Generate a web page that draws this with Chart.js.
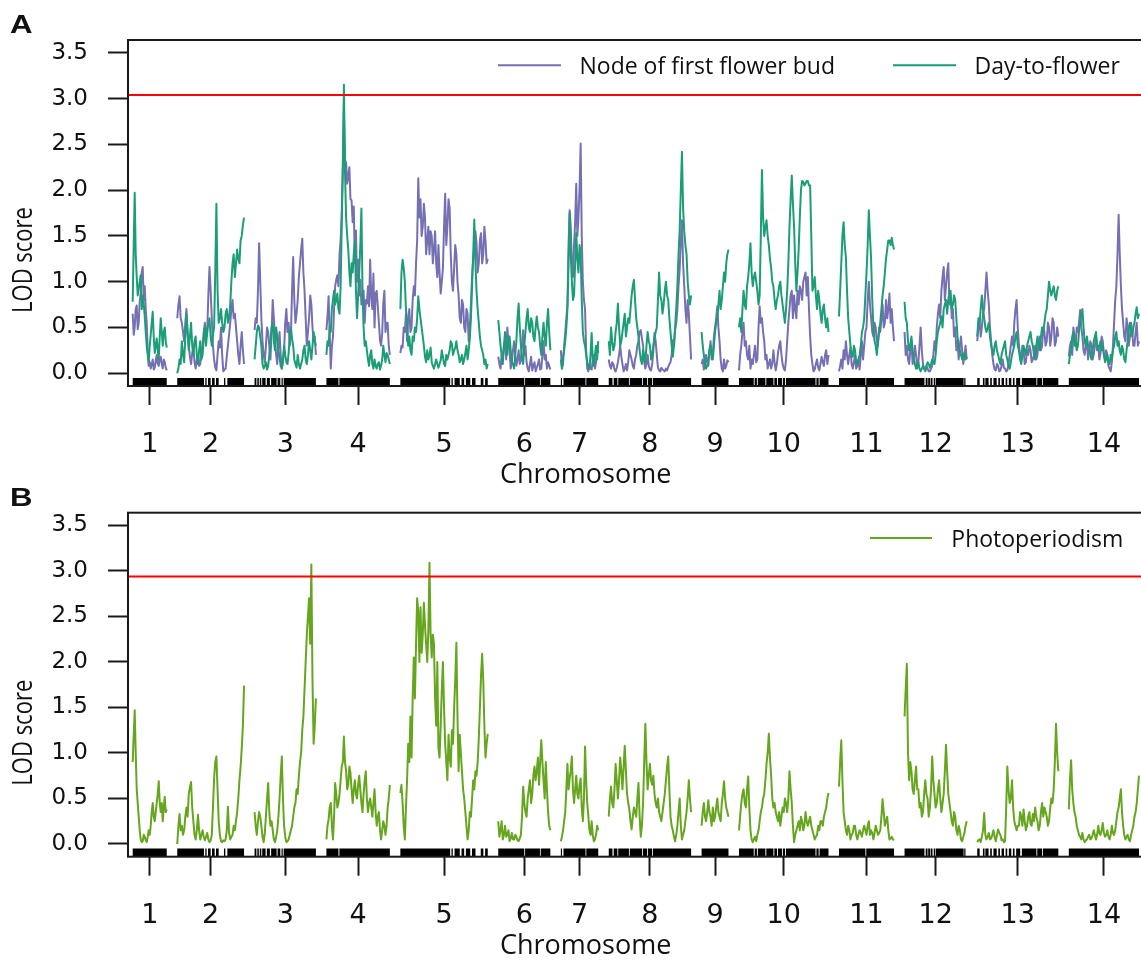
<!DOCTYPE html>
<html>
<head>
<meta charset="utf-8">
<title>LOD scans</title>
<script src="https://cdn.jsdelivr.net/npm/chart.js@4.4.1/dist/chart.umd.min.js"></script>
<style>
  html, body { margin: 0; padding: 0; background: #fff; overflow: hidden; }
  #wrap { position: relative; width: 1141px; height: 970px; overflow: hidden; background: #fff; }
  canvas { position: absolute; left: 0; }
  #panelA { top: 0; }
  #panelB { top: 470px; }
</style>
</head>
<body>
<div id="wrap">
  <canvas id="panelA" width="1150" height="490"></canvas>
  <canvas id="panelB" width="1150" height="500"></canvas>
</div>
<script>
// ---- genome layout ----
const chromNames = ['1','2','3','4','5','6','7','8','9','10','11','12','13','14'];
const chromLengths = [81, 159, 146, 151, 208, 124, 89, 196, 64, 213, 131, 148, 193, 167]; // cM
const chromGap = 25; // cM between chromosomes
const yTicks = [0, 0.5, 1, 1.5, 2, 2.5, 3, 3.5];

// genome-wide significance thresholds
const thresholdA = 3.04;
const thresholdB = 2.94;

// ---- LOD profiles, one list per chromosome (evenly spaced positions along each) ----
const nodeLod = [
  [0.65,0.42,0.5,0.7,0.74,0.48,0.55,0.78,0.88,1.1,1.16,0.8,0.95,0.7,0.55,0.25,0.08,0.12,0.05,0.1,0.15,0.04,0.06,0.14,0.2,0.1,0.08,0.16,0.18,0.1,0.05,0.15,0.12,0.06,0.03],
  [0.6,0.75,0.84,0.6,0.55,0.45,0.35,0.55,0.7,0.42,0.3,0.18,0.1,0.22,0.28,0.12,0.05,0.15,0.2,0.08,0.1,0.25,0.3,0.45,0.55,0.38,0.45,0.85,1.16,0.9,0.6,0.3,0.15,0.06,0.03,0.2,0.35,0.28,0.5,0.2,0.02,0.04,0.05,0.18,0.3,0.42,0.55,0.7,0.8,0.6,0.65,0.5,0.35,0.2,0.1,0.3,0.45,0.25,0.1],
  [0.47,0.6,0.55,0.9,1.42,1.0,0.6,0.35,0.2,0.12,0.3,0.5,0.45,0.3,0.15,0.45,0.8,0.6,0.4,0.2,0.1,0.3,0.45,0.2,0.05,0.12,0.25,0.55,0.7,0.45,0.55,0.3,0.4,0.9,1.27,0.8,0.55,0.65,0.8,1.05,1.2,1.35,1.47,1.1,0.9,0.6,0.3,0.45,0.6,0.85,0.75,0.5,0.35,0.4,0.2],
  [0.47,0.62,0.84,0.44,0.05,0.29,0.4,0.7,0.95,1.02,1.07,0.95,1.3,1.45,1.75,2.2,2.87,2.33,2.3,2.07,2.15,2.25,1.9,1.89,1.65,1.82,1.2,1.56,1.0,1.24,0.85,1.02,0.75,0.84,0.9,0.55,0.8,0.76,0.95,0.73,1.24,0.84,0.7,1.09,0.5,0.87,0.9,0.73,0.55,0.36,0.3,0.44,0.76,0.9,0.45,0.55,0.55,0.3,0.2],
  [0.22,0.3,0.28,0.5,0.45,0.65,0.35,0.6,0.7,0.45,0.5,0.8,0.95,0.85,1.2,1.45,2.13,1.7,1.9,1.5,1.6,1.85,1.7,1.3,1.45,1.6,1.3,1.55,1.5,1.2,1.35,1.55,1.2,1.05,1.4,1.1,0.87,1.0,1.15,1.6,1.96,1.4,1.6,1.9,1.8,1.3,1.0,0.9,1.15,1.4,1.3,1.0,0.85,0.6,0.55,0.8,0.75,0.5,0.45,0.7,0.65,0.35,0.5,0.75,1.05,1.25,1.35,1.55,1.42,1.1,1.2,1.45,1.53,1.2,1.3,1.6,1.45,1.2,1.25],
  [0.18,0.1,0.05,0.2,0.15,0.3,0.35,0.15,0.5,0.35,0.25,0.05,0.12,0.25,0.35,0.2,0.08,0.15,0.25,0.1,0.15,0.3,0.47,0.2,0.3,0.12,0.05,0.02,0.1,0.18,0.03,0.08,0.12,0.02,0.06,0.1,0.15,0.04,0.05,0.2,0.35,0.15,0.2,0.05,0.12,0.08,0.04],
  [0.25,0.05,0.1,0.3,0.45,0.6,0.75,1.4,1.78,1.6,1.2,1.05,1.4,1.65,2.07,1.5,1.7,2.0,2.51,1.5,1.0,0.8,0.7,0.25,0.05,0.02,0.1,0.05,0.04,0.15,0.2,0.05,0.12,0.3,0.22],
  [0.15,0.08,0.05,0.12,0.1,0.04,0.02,0.06,0.12,0.2,0.3,0.18,0.1,0.02,0.05,0.1,0.03,0.12,0.25,0.2,0.15,0.08,0.05,0.15,0.2,0.3,0.35,0.45,0.47,0.38,0.3,0.12,0.05,0.1,0.2,0.08,0.04,0.03,0.1,0.25,0.44,0.35,0.2,0.06,0.03,0.02,0.06,0.04,0.03,0.02,0.05,0.03,0.07,0.1,0.12,0.2,0.36,0.3,0.47,0.55,0.7,0.95,1.13,1.45,1.67,1.2,0.95,0.7,0.55,0.8,0.65,0.4,0.15],
  [0.1,0.15,0.04,0.1,0.2,0.12,0.08,0.25,0.35,0.15,0.2,0.4,0.5,0.6,0.73,0.5,0.35,0.15,0.05,0.02,0.15,0.05,0.08,0.14,0.12],
  [0.03,0.2,0.3,0.45,0.55,0.3,0.35,0.2,0.15,0.3,0.05,0.15,0.1,0.2,0.3,0.12,0.15,0.5,0.73,0.55,0.6,0.45,0.35,0.15,0.2,0.05,0.1,0.15,0.05,0.1,0.25,0.12,0.03,0.1,0.22,0.3,0.35,0.2,0.1,0.05,0.03,0.15,0.35,0.55,0.7,0.85,0.9,0.6,0.85,0.7,0.6,0.9,0.75,0.95,0.9,0.8,1.0,1.05,1.1,0.85,1.05,0.7,0.4,0.2,0.1,0.02,0.04,0.1,0.15,0.06,0.03,0.1,0.18,0.12,0.08,0.2,0.25,0.1,0.2],
  [0.02,0.08,0.15,0.05,0.25,0.15,0.35,0.2,0.1,0.2,0.28,0.1,0.05,0.12,0.2,0.05,0.08,0.15,0.04,0.2,0.35,0.15,0.3,0.45,0.5,0.8,1.0,0.75,0.6,0.45,0.4,0.55,0.5,0.35,0.3,0.5,0.45,0.6,0.75,0.5,0.55,0.8,0.6,0.7,0.87,0.55,0.7,0.5,0.35],
  [0.45,0.2,0.3,0.15,0.1,0.25,0.35,0.1,0.15,0.3,0.2,0.05,0.12,0.3,0.5,0.25,0.1,0.05,0.02,0.08,0.05,0.02,0.02,0.05,0.08,0.2,0.35,0.25,0.5,0.65,0.75,0.6,0.9,1.05,1.16,0.8,0.95,1.1,1.2,0.75,0.9,0.6,0.7,0.4,0.5,0.25,0.35,0.15,0.3,0.4,0.25,0.1,0.2,0.3,0.15],
  [0.35,0.5,0.6,0.4,0.5,0.65,0.7,0.9,1.1,0.9,0.75,0.5,0.35,0.2,0.1,0.04,0.03,0.1,0.08,0.02,0.03,0.08,0.15,0.06,0.05,0.02,0.03,0.1,0.2,0.3,0.4,0.3,0.55,0.7,0.8,0.5,0.3,0.2,0.15,0.3,0.25,0.1,0.12,0.25,0.2,0.3,0.25,0.12,0.15,0.2,0.3,0.15,0.2,0.35,0.4,0.25,0.3,0.5,0.45,0.3,0.35,0.55,0.5,0.3,0.4,0.6,0.55,0.3,0.35,0.5,0.4],
  [0.18,0.3,0.35,0.2,0.5,0.4,0.3,0.5,0.45,0.55,0.69,0.5,0.4,0.25,0.2,0.3,0.35,0.15,0.25,0.35,0.3,0.15,0.2,0.3,0.4,0.25,0.3,0.15,0.22,0.4,0.35,0.2,0.15,0.25,0.2,0.08,0.05,0.02,0.12,0.3,0.55,0.8,0.95,1.3,1.73,1.3,0.95,0.7,0.55,0.4,0.35,0.6,0.5,0.3,0.4,0.55,0.45,0.3,0.3,0.45,0.55,0.3,0.35]
];

const dayLod = [
  [0.78,1.4,1.97,1.3,1.05,0.85,0.92,1.0,1.07,0.7,0.85,0.75,0.62,0.45,0.3,0.2,0.12,0.3,0.42,0.55,0.67,0.4,0.22,0.3,0.38,0.25,0.15,0.4,0.6,0.45,0.3,0.45,0.5,0.35,0.28],
  [0.0,0.05,0.15,0.1,0.35,0.2,0.12,0.4,0.65,0.45,0.25,0.4,0.55,0.3,0.2,0.35,0.4,0.2,0.1,0.25,0.35,0.15,0.2,0.38,0.5,0.3,0.45,0.55,0.6,0.4,0.3,0.42,0.5,1.1,1.85,0.9,0.55,0.6,0.7,0.55,0.45,0.5,0.65,0.7,0.55,0.6,0.75,1.0,1.2,1.3,1.05,1.2,1.35,1.25,1.2,1.45,1.5,1.62,1.7],
  [0.15,0.3,0.45,0.52,0.5,0.4,0.3,0.1,0.05,0.08,0.12,0.04,0.08,0.2,0.35,0.5,0.55,0.35,0.25,0.5,0.4,0.25,0.18,0.08,0.05,0.15,0.3,0.2,0.12,0.1,0.22,0.4,0.5,0.38,0.3,0.15,0.1,0.06,0.2,0.1,0.05,0.1,0.15,0.25,0.3,0.15,0.1,0.2,0.35,0.25,0.15,0.3,0.45,0.35,0.3],
  [0.2,0.35,0.3,0.5,0.45,0.7,0.8,0.9,0.75,0.8,0.87,0.7,0.65,0.95,1.6,2.3,3.15,2.2,1.7,1.5,1.35,1.1,0.95,1.2,1.1,1.3,1.45,0.9,0.6,0.85,1.1,1.4,1.8,0.9,0.5,0.3,0.35,0.25,0.15,0.08,0.2,0.25,0.1,0.05,0.15,0.08,0.05,0.1,0.12,0.04,0.08,0.15,0.3,0.2,0.12,0.22,0.2,0.15,0.1],
  [0.7,1.1,1.24,1.15,1.0,0.7,0.55,0.3,0.4,0.25,0.2,0.4,0.35,0.5,0.45,0.6,0.84,0.7,0.6,0.5,0.4,0.3,0.18,0.12,0.25,0.15,0.2,0.28,0.12,0.08,0.05,0.1,0.15,0.1,0.06,0.1,0.14,0.25,0.18,0.1,0.08,0.2,0.15,0.2,0.25,0.35,0.32,0.2,0.25,0.28,0.35,0.25,0.2,0.12,0.15,0.2,0.1,0.15,0.22,0.3,0.15,0.25,0.38,0.6,0.95,1.3,1.68,1.2,0.9,0.7,0.55,0.4,0.3,0.25,0.2,0.1,0.15,0.05,0.1],
  [0.58,0.45,0.3,0.2,0.1,0.3,0.45,0.3,0.2,0.35,0.4,0.25,0.12,0.1,0.05,0.2,0.35,0.6,0.76,0.5,0.3,0.15,0.1,0.3,0.45,0.6,0.7,0.5,0.45,0.6,0.55,0.4,0.35,0.5,0.62,0.5,0.45,0.3,0.2,0.4,0.55,0.4,0.3,0.55,0.7,0.45,0.25],
  [0.15,0.05,0.18,0.25,0.35,0.5,0.7,1.2,1.75,1.3,1.0,0.8,0.85,1.2,1.53,1.25,1.1,1.4,1.3,0.8,0.45,0.35,0.3,0.2,0.12,0.08,0.05,0.2,0.44,0.15,0.08,0.2,0.3,0.15,0.35],
  [0.35,0.2,0.5,0.35,0.25,0.3,0.45,0.55,0.76,0.5,0.3,0.35,0.45,0.55,0.65,0.4,0.5,0.6,0.55,0.7,0.85,0.95,1.02,0.8,0.6,0.5,0.4,0.25,0.15,0.1,0.25,0.18,0.12,0.3,0.45,0.35,0.3,0.15,0.2,0.3,0.38,0.45,0.5,0.8,1.1,0.85,0.8,0.65,0.75,0.9,1.0,0.85,0.8,0.6,0.45,0.3,0.18,0.3,0.5,0.7,0.95,1.3,1.56,2.0,2.42,1.8,1.55,1.4,1.3,1.0,0.85,0.75,0.85],
  [0.45,0.3,0.2,0.1,0.05,0.08,0.15,0.25,0.3,0.2,0.15,0.3,0.45,0.55,0.6,0.75,0.9,0.7,0.8,0.95,1.1,1.0,1.2,1.3,1.35],
  [0.5,0.6,0.45,0.7,0.9,0.75,0.7,0.95,1.05,1.2,1.42,1.1,0.95,1.05,1.1,1.0,0.9,0.75,0.85,1.5,2.22,1.7,1.5,1.6,1.67,1.5,1.4,1.25,1.15,1.0,0.95,0.8,0.7,0.8,0.85,0.95,1.0,0.85,0.75,0.65,0.55,0.7,0.9,1.2,1.6,1.9,2.16,1.85,1.6,1.2,0.9,1.1,1.35,1.7,2.0,2.1,2.09,2.05,2.07,2.1,2.1,2.05,2.05,1.5,0.9,0.95,1.05,0.85,0.7,0.9,0.8,0.65,0.55,0.7,0.75,0.6,0.5,0.6,0.45],
  [0.62,0.9,1.2,1.5,1.65,1.4,1.27,0.9,0.6,0.45,0.3,0.2,0.18,0.3,0.25,0.12,0.1,0.15,0.2,0.3,0.45,0.5,0.6,0.85,1.1,1.4,1.78,1.5,1.25,0.8,0.5,0.35,0.3,0.2,0.35,0.45,0.55,0.7,0.85,0.95,1.1,1.25,1.35,1.45,1.45,1.4,1.48,1.4,1.35],
  [0.78,0.6,0.55,0.35,0.25,0.3,0.4,0.25,0.15,0.1,0.05,0.08,0.12,0.05,0.02,0.05,0.08,0.05,0.03,0.08,0.12,0.1,0.06,0.1,0.15,0.12,0.1,0.2,0.35,0.45,0.5,0.55,0.62,0.5,0.7,0.75,0.8,0.65,0.8,0.9,0.85,0.7,0.75,0.85,0.8,0.6,0.4,0.3,0.25,0.2,0.15,0.2,0.22,0.15,0.18],
  [0.4,0.6,0.55,0.7,0.85,0.7,0.6,0.5,0.45,0.5,0.55,0.4,0.3,0.25,0.2,0.3,0.35,0.25,0.2,0.15,0.1,0.2,0.25,0.3,0.35,0.2,0.15,0.08,0.05,0.12,0.2,0.25,0.3,0.4,0.45,0.3,0.25,0.15,0.1,0.2,0.3,0.25,0.2,0.3,0.35,0.4,0.45,0.35,0.3,0.2,0.15,0.3,0.4,0.3,0.25,0.4,0.5,0.45,0.55,0.65,0.7,0.85,1.0,0.9,0.85,0.9,0.95,0.85,0.8,0.9,0.95],
  [0.1,0.2,0.25,0.4,0.45,0.3,0.35,0.25,0.3,0.45,0.55,0.65,0.7,0.5,0.35,0.3,0.4,0.3,0.3,0.2,0.15,0.25,0.35,0.4,0.45,0.3,0.25,0.3,0.35,0.25,0.3,0.2,0.12,0.15,0.2,0.12,0.1,0.2,0.15,0.25,0.3,0.4,0.45,0.3,0.35,0.25,0.2,0.3,0.25,0.15,0.12,0.25,0.35,0.5,0.55,0.45,0.4,0.5,0.55,0.65,0.72,0.6,0.65]
];

const photoLod = [
  [0.9,1.2,1.47,1.0,0.6,0.45,0.3,0.15,0.05,0.02,0.03,0.1,0.08,0.04,0.02,0.08,0.15,0.1,0.2,0.35,0.45,0.3,0.25,0.35,0.45,0.55,0.69,0.45,0.35,0.45,0.25,0.4,0.52,0.35,0.38],
  [0.0,0.2,0.33,0.15,0.2,0.1,0.15,0.3,0.4,0.3,0.55,0.62,0.68,0.4,0.25,0.1,0.05,0.15,0.32,0.15,0.05,0.1,0.15,0.08,0.04,0.08,0.12,0.05,0.02,0.04,0.1,0.4,0.72,0.9,0.96,0.6,0.25,0.1,0.03,0.02,0.04,0.03,0.05,0.15,0.41,0.12,0.05,0.08,0.1,0.2,0.15,0.25,0.35,0.5,0.7,0.85,1.05,1.3,1.74],
  [0.35,0.2,0.1,0.25,0.35,0.3,0.2,0.08,0.02,0.12,0.3,0.5,0.67,0.35,0.2,0.25,0.15,0.05,0.02,0.08,0.15,0.3,0.5,0.75,0.96,0.5,0.2,0.08,0.02,0.03,0.05,0.1,0.15,0.2,0.3,0.4,0.45,0.6,0.55,0.75,0.9,1.0,1.25,1.4,1.7,2.0,2.3,2.5,2.7,2.2,3.07,1.8,1.1,1.3,1.6],
  [0.05,0.2,0.27,0.4,0.45,0.2,0.05,0.3,0.67,0.55,0.4,0.45,0.55,0.7,0.85,0.9,1.18,0.9,0.8,0.6,0.65,0.85,0.78,0.6,0.45,0.6,0.7,0.55,0.5,0.65,0.75,0.6,0.45,0.35,0.55,0.7,0.8,0.5,0.35,0.45,0.5,0.4,0.3,0.45,0.6,0.35,0.2,0.3,0.35,0.15,0.05,0.15,0.25,0.2,0.1,0.2,0.4,0.5,0.65],
  [0.56,0.65,0.45,0.2,0.05,0.4,0.7,1.1,0.9,1.4,0.95,1.6,2.05,1.6,2.2,2.7,2.55,2.0,2.6,2.1,2.3,2.65,2.4,2.2,2.0,2.35,3.09,2.3,2.05,2.3,2.2,1.6,1.3,2.0,1.05,0.95,1.3,1.7,2.0,1.5,1.1,0.9,0.7,1.2,0.95,0.85,1.25,1.1,1.5,1.8,2.21,1.4,0.8,1.2,1.0,0.8,0.6,0.5,0.35,0.2,0.05,0.15,0.35,0.3,0.5,0.7,0.6,0.8,0.75,0.9,1.15,1.5,1.85,2.09,1.8,1.3,0.95,1.1,1.21],
  [0.25,0.08,0.15,0.25,0.05,0.1,0.2,0.08,0.1,0.15,0.03,0.06,0.12,0.05,0.05,0.1,0.08,0.04,0.03,0.06,0.1,0.3,0.63,0.45,0.35,0.3,0.5,0.6,0.7,0.45,0.55,0.75,0.85,0.7,0.8,0.95,0.65,0.9,1.14,0.9,0.7,0.5,0.9,0.6,0.35,0.2,0.15],
  [0.03,0.08,0.15,0.25,0.35,0.6,0.88,0.6,0.72,0.8,0.96,0.6,0.45,0.6,0.75,0.55,0.5,0.65,0.72,0.4,0.25,0.5,1.07,0.7,0.45,0.3,0.15,0.1,0.25,0.1,0.03,0.05,0.1,0.2,0.15],
  [0.3,0.5,0.63,0.45,0.4,0.6,0.88,0.7,0.5,0.7,0.95,0.8,0.6,0.85,1.08,0.8,0.55,0.45,0.38,0.25,0.16,0.3,0.4,0.35,0.3,0.5,0.67,0.3,0.08,0.2,0.45,0.9,1.32,0.9,0.6,0.75,0.88,0.7,0.65,0.75,0.55,0.45,0.4,0.5,0.35,0.3,0.25,0.35,0.45,0.55,0.7,0.85,0.96,0.6,0.3,0.2,0.15,0.08,0.03,0.1,0.2,0.35,0.5,0.2,0.05,0.1,0.15,0.25,0.35,0.5,0.7,0.5,0.35],
  [0.2,0.35,0.45,0.3,0.25,0.35,0.48,0.35,0.3,0.2,0.4,0.25,0.3,0.4,0.5,0.35,0.3,0.25,0.45,0.55,0.69,0.5,0.4,0.35,0.3],
  [0.15,0.3,0.45,0.55,0.6,0.45,0.4,0.6,0.74,0.4,0.15,0.05,0.02,0.05,0.08,0.03,0.1,0.15,0.25,0.35,0.4,0.5,0.55,0.7,0.88,1.0,1.21,0.95,0.75,0.5,0.4,0.45,0.35,0.3,0.25,0.35,0.2,0.3,0.4,0.35,0.5,0.45,0.35,0.5,0.8,0.6,0.45,0.2,0.02,0.1,0.15,0.2,0.25,0.15,0.3,0.25,0.15,0.2,0.35,0.25,0.2,0.25,0.3,0.2,0.15,0.1,0.05,0.08,0.1,0.2,0.15,0.25,0.25,0.2,0.3,0.35,0.4,0.5,0.56],
  [0.63,0.9,1.14,0.7,0.35,0.25,0.15,0.1,0.2,0.15,0.05,0.1,0.12,0.2,0.2,0.1,0.05,0.1,0.15,0.12,0.08,0.15,0.2,0.15,0.1,0.2,0.25,0.1,0.15,0.12,0.05,0.12,0.2,0.15,0.1,0.12,0.15,0.3,0.49,0.35,0.2,0.25,0.3,0.15,0.05,0.06,0.08,0.05,0.04],
  [1.4,1.7,1.98,1.0,0.7,0.9,0.8,0.6,0.55,0.7,0.85,0.6,0.6,0.4,0.45,0.3,0.35,0.55,0.7,0.55,0.5,0.3,0.4,0.6,0.96,0.7,0.55,0.4,0.45,0.6,0.7,0.5,0.35,0.45,0.55,0.8,1.09,0.8,0.55,0.45,0.35,0.25,0.2,0.35,0.3,0.15,0.1,0.2,0.15,0.05,0.03,0.08,0.12,0.2,0.25],
  [0.02,0.04,0.05,0.02,0.08,0.15,0.34,0.1,0.05,0.08,0.12,0.05,0.06,0.1,0.15,0.08,0.03,0.1,0.16,0.12,0.1,0.04,0.05,0.02,0.03,0.4,0.85,0.6,0.45,0.5,0.7,0.4,0.25,0.2,0.15,0.2,0.2,0.35,0.3,0.2,0.38,0.25,0.15,0.2,0.3,0.35,0.22,0.2,0.33,0.25,0.4,0.3,0.25,0.15,0.2,0.35,0.45,0.3,0.4,0.35,0.3,0.2,0.25,0.4,0.5,0.45,0.6,0.9,1.32,1.0,0.8],
  [0.38,0.7,0.92,0.6,0.45,0.35,0.3,0.2,0.15,0.1,0.08,0.05,0.12,0.05,0.02,0.04,0.05,0.08,0.1,0.05,0.06,0.1,0.15,0.1,0.05,0.1,0.2,0.12,0.1,0.15,0.23,0.12,0.08,0.1,0.15,0.08,0.05,0.1,0.2,0.12,0.1,0.15,0.25,0.35,0.4,0.5,0.6,0.35,0.2,0.1,0.05,0.08,0.1,0.05,0.03,0.1,0.15,0.2,0.3,0.35,0.45,0.6,0.75]
];

// marker coverage per chromosome, as [from, to] fractions of chromosome length
const markerBlocks = [
  [[0,1]],
  [[0,0.4],[0.42,0.44],[0.46,0.5],[0.52,0.56],[0.58,0.62],[0.7,0.72],[0.75,1]],
  [[0,0.03],[0.045,0.07],[0.085,0.11],[0.125,0.18],[0.2,0.25],[0.27,0.36],[0.375,0.42],[0.44,0.46],[0.475,1]],
  [[0,0.19],[0.205,1]],
  [[0,0.57],[0.585,0.6],[0.62,0.68],[0.7,0.73],[0.75,0.8],[0.82,0.86],[0.92,0.95],[0.97,1]],
  [[0,0.5],[0.515,0.8],[0.815,1]],
  [[0,0.03],[0.07,0.66],[0.68,1]],
  [[0,0.045],[0.06,0.105],[0.115,0.245],[0.255,0.405],[0.415,0.465],[0.475,0.525],[0.535,1]],
  [[0,1]],
  [[0,0.165],[0.175,0.2],[0.21,0.295],[0.305,0.385],[0.395,0.425],[0.435,0.48],[0.49,0.515],[0.525,0.855],[0.865,0.89],[0.9,1]],
  [[0,0.48],[0.495,1]],
  [[0,0.32],[0.34,0.37],[0.38,0.41],[0.42,0.45],[0.47,0.49],[0.5,0.95],[0.96,0.98],[0.99,1]],
  [[0,0.03],[0.07,0.09],[0.1,0.14],[0.16,0.18],[0.2,0.24],[0.26,0.28],[0.3,0.33],[0.35,0.37],[0.39,0.42],[0.44,0.46],[0.48,0.53],[0.55,0.73],[0.74,0.8],[0.81,1]],
  [[0,1]]
];

// ---- derived genome coordinates ----
const chromStart = [];
(function () {
  let acc = 0;
  chromLengths.forEach(len => { chromStart.push(acc); acc += len + chromGap; });
})();
const chromMid = chromLengths.map((len, c) => chromStart[c] + len / 2);
const genomeEnd = chromStart[chromStart.length - 1] + chromLengths[chromLengths.length - 1];
const xMin = -11.2;
const xMax = genomeEnd + 11.2;

function profilePoints(lod) {
  const pts = [];
  lod.forEach((vals, c) => {
    const n = vals.length, s = chromStart[c], len = chromLengths[c];
    vals.forEach((v, i) => pts.push({ x: s + len * i / (n - 1), y: v }));
    pts.push({ x: s + len + chromGap / 2, y: null }); // break the line between chromosomes
  });
  return pts;
}

function rugPoints(level) {
  const pts = [];
  markerBlocks.forEach((blocks, c) => {
    const s = chromStart[c], len = chromLengths[c];
    blocks.forEach(([a, b]) => {
      pts.push({ x: s + a * len, y: level }, { x: s + b * len, y: level }, { x: s + b * len, y: null });
    });
  });
  return pts;
}

function thresholdPoints(t) {
  return [{ x: xMin, y: t }, { x: xMax, y: t }];
}

// ---- frame, titles, panel letter and legend ----
const panelDecor = {
  id: 'panelDecor',
  afterDraw(chart, args, o) {
    const ctx = chart.ctx, a = chart.chartArea;
    ctx.save();
    ctx.strokeStyle = '#1a1a1a';
    ctx.lineWidth = 2;
    ctx.strokeRect(a.left, a.top, a.right - a.left, a.bottom - a.top);

    ctx.fillStyle = '#111';
    ctx.textAlign = 'left';
    ctx.textBaseline = 'alphabetic';

    // panel letter
    ctx.save();
    ctx.font = 'bold 26px "Liberation Sans", Arial, sans-serif';
    ctx.translate(10, a.top - 6.7);
    ctx.scale(1.2, 1);
    ctx.fillText(o.letter, 0, 0);
    ctx.restore();

    // y-axis title
    ctx.save();
    ctx.font = '22px "Open Sans", sans-serif';
    ctx.translate(31.5, a.top + 220);
    ctx.scale(1.2, 1);
    ctx.rotate(-Math.PI / 2);
    ctx.textAlign = 'center';
    ctx.fillText(o.yTitle, 0, 0);
    ctx.restore();

    // x-axis title
    ctx.font = '27px "Open Sans", sans-serif';
    ctx.fillText(o.xTitle, 500, a.bottom + 97);

    // legend
    ctx.font = '23px "Open Sans", sans-serif';
    o.legend.forEach(item => {
      const ds = chart.data.datasets[item.dataset];
      ctx.strokeStyle = ds.borderColor;
      ctx.lineWidth = 2;
      ctx.beginPath();
      ctx.moveTo(item.x1, a.top + 25.3);
      ctx.lineTo(item.x2, a.top + 25.3);
      ctx.stroke();
      ctx.fillStyle = '#111';
      ctx.fillText(ds.label, item.textX, a.top + 34.2);
    });
    ctx.restore();
  }
};

function lineSet(label, data, color, width, order) {
  return {
    type: 'line', label, data, borderColor: color, backgroundColor: color,
    borderWidth: width, pointRadius: 0, pointHoverRadius: 0, tension: 0,
    spanGaps: false, borderJoinStyle: 'round', order
  };
}

function makeChart(canvasId, datasets, padTop, xAxisHeight, decor) {
  return new Chart(document.getElementById(canvasId), {
    type: 'line',
    data: { datasets },
    options: {
      responsive: false,
      animation: false,
      devicePixelRatio: 1,
      events: [],
      layout: { padding: { top: padTop, left: 0, right: 6.3, bottom: 0 }, autoPadding: false },
      plugins: {
        legend: { display: false },
        tooltip: { enabled: false },
        panelDecor: decor
      },
      scales: {
        x: {
          type: 'linear', min: xMin, max: xMax, bounds: 'data',
          afterBuildTicks: s => { s.ticks = chromMid.map(v => ({ value: v })); },
          afterFit: s => { s.height = xAxisHeight; },
          ticks: {
            autoSkip: false, minRotation: 0, maxRotation: 0,
            font: { family: "'DejaVu Sans', sans-serif", size: 27, lineHeight: 1 },
            color: '#111', padding: 26.5,
            callback: (v, i) => chromNames[i]
          },
          grid: { drawOnChartArea: false, drawTicks: true, tickLength: 19, tickWidth: 2, tickColor: '#1a1a1a' },
          border: { display: false }
        },
        y: {
          type: 'linear', min: -0.14, max: 3.64, bounds: 'data',
          afterBuildTicks: s => { s.ticks = yTicks.map(v => ({ value: v })); },
          afterFit: s => { s.width = 128; },
          ticks: {
            font: { family: "'DejaVu Sans', sans-serif", size: 23 },
            color: '#111', padding: 20,
            callback: v => Number(v).toFixed(1)
          },
          grid: { drawOnChartArea: false, drawTicks: true, tickLength: 20, tickWidth: 2, tickColor: '#1a1a1a' },
          border: { display: false }
        }
      }
    },
    plugins: [panelDecor]
  });
}

// Panel A: node of first flower bud and days to flowering
makeChart('panelA', [
  lineSet('threshold', thresholdPoints(thresholdA), '#ff0000', 2, 0),
  lineSet('Day-to-flower', profilePoints(dayLod), '#1b9e77', 2, 1),
  lineSet('Node of first flower bud', profilePoints(nodeLod), '#7570b3', 2, 2),
  lineSet('markers', rugPoints(-0.095), '#000000', 8, 3)
], 40, 104, {
  letter: 'A', yTitle: 'LOD score', xTitle: 'Chromosome',
  legend: [
    { dataset: 2, x1: 498, x2: 561, textX: 579.5 },
    { dataset: 1, x1: 893, x2: 956, textX: 974.5 }
  ]
});

// Panel B: photoperiod sensitivity
makeChart('panelB', [
  lineSet('threshold', thresholdPoints(thresholdB), '#ff0000', 2, 0),
  lineSet('Photoperiodism', profilePoints(photoLod), '#66a61e', 2, 1),
  lineSet('markers', rugPoints(-0.095), '#000000', 8, 3)
], 42.7, 113.3, {
  letter: 'B', yTitle: 'LOD score', xTitle: 'Chromosome',
  legend: [
    { dataset: 1, x1: 870, x2: 932, textX: 951.3 }
  ]
});
</script>
</body>
</html>
